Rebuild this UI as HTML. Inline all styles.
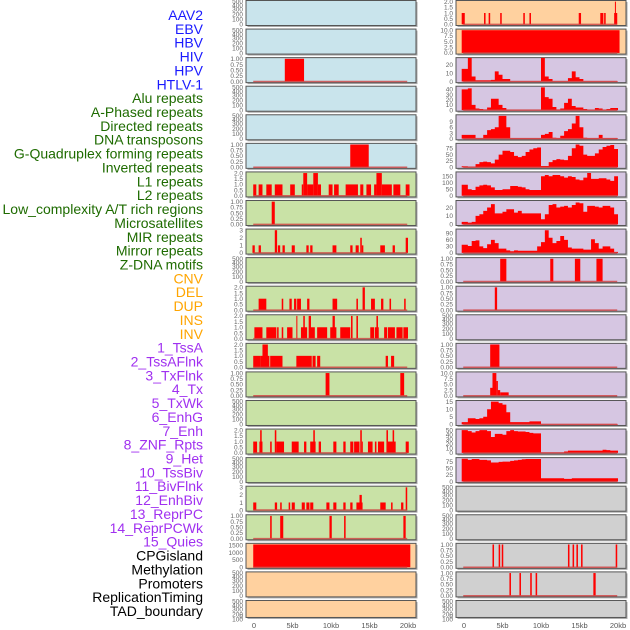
<!DOCTYPE html>
<html><head><meta charset="utf-8">
<style>
html,body{margin:0;padding:0;background:#fff;}
svg{display:block;font-family:"Liberation Sans",sans-serif;}
</style></head>
<body>
<svg id="chart" width="630" height="630" viewBox="0 0 630 630" xmlns="http://www.w3.org/2000/svg"></svg>
<script>
// ---------- data ----------
const labels = ["AAV2","EBV","HBV","HIV","HPV","HTLV-1","Alu repeats","A-Phased repeats","Directed repeats","DNA transposons","G-Quadruplex forming repeats","Inverted repeats","L1 repeats","L2 repeats","Low_complexity A/T rich regions","Microsatellites","MIR repeats","Mirror repeats","Z-DNA motifs","CNV","DEL","DUP","INS","INV","1_TssA","2_TssAFlnk","3_TxFlnk","4_Tx","5_TxWk","6_EnhG","7_Enh","8_ZNF_Rpts","9_Het","10_TssBiv","11_BivFlnk","12_EnhBiv","13_ReprPC","14_ReprPCWk","15_Quies","CPGisland","Methylation","Promoters","ReplicationTiming","TAD_boundary"];
const labelColors = ["#1a1aff","#1a1aff","#1a1aff","#1a1aff","#1a1aff","#1a1aff","#1e6b00","#1e6b00","#1e6b00","#1e6b00","#1e6b00","#1e6b00","#1e6b00","#1e6b00","#1e6b00","#1e6b00","#1e6b00","#1e6b00","#1e6b00","#ffa500","#ffa500","#ffa500","#ffa500","#ffa500","#a030f0","#a030f0","#a030f0","#a030f0","#a030f0","#a030f0","#a030f0","#a030f0","#a030f0","#a030f0","#a030f0","#a030f0","#a030f0","#a030f0","#a030f0","#000","#000","#000","#000","#000"];
const xTickLabels = ["0","5kb","10kb","15kb","20kb"];
const xTickValues = [0,5,10,15,20];

// left column segment data [startKb, endKb, value]
const L2 = [[4.0,6.5,1]];
const L5 = [[12.5,14.9,1]];
const L6 = [[-0.1,0.3,1],[0.6,1.1,1],[1.6,2.3,1],[2.7,3.7,1],[4.7,5.3,1],[6.2,6.4,1],[6.4,6.9,2],[6.9,7.7,1],[7.7,8.3,2],[8.3,8.7,1],[9.7,10.2,1],[10.4,11.0,1],[11.9,13.5,1],[13.8,14.2,1],[14.6,15.2,1],[15.6,15.9,1],[15.9,16.6,2],[16.6,17.9,1],[18.1,19.0,1],[19.7,20.2,1]];
const L7 = [[2.3,2.7,1]];
const L8 = [[-0.2,0.1,1],[0.6,0.9,1],[2.7,3.0,3],[3.1,3.4,1],[3.7,4.0,1],[4.9,5.3,1],[6.8,7.1,1],[7.3,7.6,1],[10.2,10.7,1],[12.5,12.8,1],[13.2,13.6,1],[13.8,14.0,2],[14.0,14.2,1],[16.4,17.0,1],[18.0,18.3,1],[19.7,20.0,2]];
const L10 = [[0.6,1.6,1],[3.6,3.8,1],[4.6,4.9,1],[5.2,5.5,1],[5.6,6.1,1],[6.9,7.2,1],[10.2,10.8,1],[13.3,13.5,1],[14.1,14.4,2],[15.2,15.7,1],[16.5,16.8,1],[17.6,17.8,1],[19.5,19.7,1]];
const L11 = [[0.05,1.1,1],[1.6,2.9,1],[3.0,3.2,1],[3.6,3.8,1],[4.3,5.0,1],[5.5,5.6,2],[6.1,6.9,1],[6.4,6.6,2],[7.1,7.4,2],[7.3,7.9,1],[8.2,9.5,1],[9.9,10.7,1],[10.2,10.5,2],[11.2,12.5,1],[12.6,12.8,2],[13.3,13.5,2],[15.1,15.6,1],[15.7,16.2,1],[15.9,16.1,2],[16.9,17.3,1],[17.4,18.3,1],[18.5,19.3,1],[19.4,20.0,1]];
const L12 = [[-0.1,0.8,1],[0.8,2.0,1],[1.1,1.8,2],[2.1,3.7,1],[5.5,7.5,1],[7.6,8.0,1],[8.2,8.6,1],[17.1,17.4,1],[17.8,18.2,1]];
const L13 = [[9.3,9.8,1],[19.0,19.5,1]];
const L15 = [[-0.1,0.4,1],[0.7,1.1,1],[0.8,1.0,2],[2.1,2.3,1],[2.7,2.9,2],[2.9,3.9,1],[4.9,5.8,1],[6.5,6.8,1],[7.3,8.0,1],[7.7,7.9,2],[8.4,8.7,1],[10.3,10.7,1],[11.6,11.9,1],[12.5,12.9,1],[13.0,13.7,1],[13.8,14.0,2],[14.0,14.1,1],[14.8,15.4,1],[15.7,15.9,1],[16.1,16.9,1],[17.2,17.4,2],[17.4,18.1,1],[18.0,18.2,2],[18.1,18.4,1],[19.7,20.1,1]];
const L17 = [[-0.1,0.3,1],[2.7,3.0,1],[3.4,3.6,1],[4.5,4.7,1],[4.9,5.3,1],[6.2,6.6,1],[6.8,7.2,1],[7.3,7.7,1],[9.4,9.8,1],[10.3,10.7,1],[11.6,11.9,1],[12.5,12.8,1],[13.3,14.1,1],[13.7,14.0,2],[16.4,17.1,1],[17.8,18.0,1],[19.1,19.4,1],[19.7,19.9,3]];
const L18 = [[2.1,2.3,1],[3.4,3.8,1],[9.8,10.1,1],[11.7,11.9,1],[19.4,19.7,1]];
const L19 = [[-0.1,20.3,1550]];

// right column
const R0 = [[-0.3,0.1,1],[2.6,2.8,1],[3.2,3.4,1],[4.7,4.9,1],[7.7,7.9,1],[8.5,8.7,1],[14.9,15.2,1],[17.7,18.1,1],[18.2,18.4,1],[19.5,19.9,1],[19.6,19.7,2]];
const R1 = [[-0.3,20.2,10]];
// binned values, 0.5kb bins from 0 to 20kb
const R2 = [15,28,6,1.5,1.5,1.5,1.5,2,12,8,3,3,0.5,0.5,0.5,0.5,0.5,0.5,0.5,0.5,28,6,3,0.5,0.5,0.5,0.5,4,12,5,3,0.5,0.5,0.5,0.5,0.5,0.5,0.5,0.5,0.5];
const R3 = [40,42,10,3,2,1,5,22,22,10,4,0.5,0.5,0.5,0.5,0.5,0.5,0.5,0.5,0.5,44,25,22,6,1,3,14,22,8,5,5,2,0.5,0.5,4,3,0.5,2,4,4];
const R4 = [2,2,2,0.3,0.3,2,4.5,5,6,12,12,6,0.3,0.3,0.3,0.3,0.3,0.3,0.3,0.3,2,2.5,3.5,0.5,0.3,1.5,4,5,8,12,6,0.5,0.3,0.3,0.3,2,0.3,0.3,0.3,0.3];
const R5 = [4,3,3,12,20,22,20,15,30,50,65,65,60,45,40,45,60,70,75,78,5,5,20,28,32,30,28,45,75,90,85,50,45,45,55,70,80,85,88,72];
const R6 = [85,50,45,70,80,85,80,65,45,45,50,50,75,75,70,65,50,45,45,45,150,160,150,160,160,150,140,150,145,125,120,140,175,130,130,135,135,125,115,150];
const R7 = [3,2,3,10,12,16,20,24,13,13,15,18,18,14,16,13,13,13,13,13,6,12,23,24,20,21,22,20,23,26,25,15,22,22,21,20,22,22,20,12];
const R8 = [38,32,55,58,30,22,40,60,45,20,20,12,8,12,10,10,10,10,10,30,50,105,70,45,55,78,60,25,20,20,20,15,15,63,45,20,30,30,20,5];
const R9 = [[4.7,5.5,1],[11.2,11.6,1],[14.4,15.1,1],[17.2,18.0,1]];
const R10 = [[4.0,4.3,1]];
const R12 = [[3.4,4.6,1]];
const R13 = [[3.4,3.7,3.5],[3.7,4.2,10],[4.2,4.4,6.5],[4.4,4.7,2.5],[4.7,5.8,1.5]];
const R14 = [1.5,4,4,3.5,4,5,10,15,15,14,13,8,1.5,1.5,1.5,1.5,1.5,2,2,2,0.2,0.2,0.2,0.2,0.2,0.2,0.2,0.2,0.2,0.2,0.2,0.2,0.2,0.2,0.2,0.2,0.2,0.2,0.2,0.2];
const R15 = [50,48,45,48,50,50,48,35,42,42,40,48,50,48,47,47,46,44,43,43,1,1,1,1,1,1,3,5,5,5,5,5,5,5,5,5,7,6,5,5];
const R16 = [86,82,85,85,82,82,80,72,72,74,75,75,78,80,82,84,85,85,85,85,12,12,12,12,12,12,10,10,12,12,12,12,12,12,12,12,12,12,12,12];
const R19 = [[3.7,3.9,1],[4.5,4.7,1],[4.9,5.1,1],[13.5,13.7,1],[14.1,14.3,1],[14.6,14.8,1],[15.2,15.4,1],[19.7,19.9,1]];
const R20 = [[5.9,6.1,1],[7.2,7.4,1],[8.6,8.8,1],[9.3,9.5,1],[16.8,17.1,1]];

const BLUE="#c9e4ec", GREEN="#c9e2a6", ORANGE="#ffd19f", PURPLE="#d6c6e2", GREY="#d0d0d0";
const T2=[0,0.5,1,1.5,2], T1=[0,0.25,0.5,0.75,1], T3=[0,1,2,3];
const leftPanels = [
 {bg:BLUE},{bg:BLUE},{bg:BLUE,seg:L2,max:1,ticks:T1,fmt:2},{bg:BLUE},{bg:BLUE},{bg:BLUE,seg:L5,max:1,ticks:T1,fmt:2},
 {bg:GREEN,seg:L6,max:2,ticks:T2,fmt:1},{bg:GREEN,seg:L7,max:1,ticks:T1,fmt:2},{bg:GREEN,seg:L8,max:3,ticks:T3,fmt:0},{bg:GREEN},
 {bg:GREEN,seg:L10,max:2,ticks:T2,fmt:1},{bg:GREEN,seg:L11,max:2,ticks:T2,fmt:1},{bg:GREEN,seg:L12,max:2,ticks:T2,fmt:1},{bg:GREEN,seg:L13,max:1,ticks:T1,fmt:2},
 {bg:GREEN},{bg:GREEN,seg:L15,max:2,ticks:T2,fmt:1},{bg:GREEN},{bg:GREEN,seg:L17,max:3,ticks:T3,fmt:0},{bg:GREEN,seg:L18,max:1,ticks:T1,fmt:2},
 {bg:ORANGE,seg:L19,max:1550,ticks:[0,500,1000,1500],fmt:0},{bg:ORANGE},{bg:ORANGE,last:false}
];
const rightPanels = [
 {bg:ORANGE,seg:R0,max:2,ticks:T2,fmt:1},{bg:ORANGE,seg:R1,max:10,ticks:[0,2.5,5,7.5,10],fmt:1},
 {bg:PURPLE,bins:R2,max:27,ticks:[0,10,20],fmt:0},{bg:PURPLE,bins:R3,max:44,ticks:[0,10,20,30,40],fmt:0},
 {bg:PURPLE,bins:R4,max:12,ticks:[0,3,6,9],fmt:0},{bg:PURPLE,bins:R5,max:90,ticks:[0,25,50,75],fmt:0},
 {bg:PURPLE,bins:R6,max:175,ticks:[0,50,100,150],fmt:0},{bg:PURPLE,bins:R7,max:27,ticks:[0,10,20],fmt:0},
 {bg:PURPLE,bins:R8,max:105,ticks:[0,30,60,90],fmt:0},{bg:PURPLE,seg:R9,max:1,ticks:T1,fmt:2},
 {bg:PURPLE,seg:R10,max:1,ticks:T1,fmt:2},{bg:PURPLE},{bg:PURPLE,seg:R12,max:1,ticks:T1,fmt:2},
 {bg:PURPLE,seg:R13,max:10,ticks:[0,2.5,5,7.5,10],fmt:1},{bg:PURPLE,bins:R14,max:15,ticks:[0,5,10,15],fmt:0},
 {bg:PURPLE,bins:R15,max:50,ticks:[0,10,20,30,40,50],fmt:0},{bg:PURPLE,bins:R16,max:86,ticks:[0,25,50,75],fmt:0},
 {bg:GREY},{bg:GREY},{bg:GREY,seg:R19,max:1,ticks:T1,fmt:2},{bg:GREY,seg:R20,max:1,ticks:T1,fmt:2},{bg:GREY}
];

// ---------- drawing ----------
const svg = document.getElementById('chart');
const NS = "http://www.w3.org/2000/svg";
function mk(tag, attrs, parent){ const e=document.createElementNS(NS,tag); for(const k in attrs) e.setAttribute(k,attrs[k]); (parent||svg).appendChild(e); return e; }

// labels
labels.forEach((t,i)=>{
  const e = mk('text',{x:203,y:15+i*13.86+5,'text-anchor':'end','font-size':'14',fill:labelColors[i]});
  
  
  e.textContent=t;
});

const ROW=28.57;
function drawPanel(p, col, row){
  const x0 = col===0?246:456, w=170, zeroX = col===0?254:464, kbPx=7.7;
  const top = row*ROW+0.5, H = row===21?17:25;
  const xs = kb=>zeroX+kb*kbPx;
  const g = mk('g',{});
  
  
  mk('rect',{x:x0+1.5,y:top+1.5,width:w,height:H,fill:'#aaa'},g);
  const bg = mk('rect',{x:x0,y:top,width:w,height:H,fill:p.bg,stroke:'#555','stroke-width':1},g);
  
  
  const tx = x0-3;
  if(p.max===undefined){
    const offs=[1,5,9,14,19,H-1], vals=["500","400","300","200","100","0"];
    vals.forEach((v,i)=>{ const t=mk('text',{x:tx,y:top+offs[i]+2.2,'text-anchor':'end','font-size':'6.5',fill:'#666'},g); t.textContent=v;
        });
    return;
  }
  const ymin=-0.05*p.max, ymax=1.05*p.max;
  const ys = v=>top+H*(1-(Math.min(v,ymax)-ymin)/(ymax-ymin));
  p.ticks.forEach(v=>{ const t=mk('text',{x:tx,y:ys(v)+2.3,'text-anchor':'end','font-size':'6.5',fill:'#666'},g);
    t.textContent = v.toFixed(p.fmt);   });
  if(p.seg){
    p.seg.forEach(s=>{ const r=mk('rect',{x:xs(s[0]),y:ys(s[2]),width:Math.max(1,xs(s[1])-xs(s[0])),height:ys(0)-ys(s[2]),fill:'#ff0000'},g);
        });
  }
  if(p.bins){
    let d='M'+xs(-0.3)+','+ys(0);
    p.bins.forEach((v,i)=>{ const a=i===0?-0.3:i*0.5, b=(i+1)*0.5; d+=' L'+xs(a)+','+ys(v)+' L'+xs(b)+','+ys(v); });
    d+=' L'+xs(p.bins.length*0.5)+','+ys(0)+' Z';
    const a=mk('path',{d:d,fill:'#ff0000'},g);
     
  }
  mk('line',{x1:xs(-0.1),x2:xs(19.9),y1:ys(0),y2:ys(0),stroke:'#d04040','stroke-opacity':0.8,'stroke-width':1.5},g);
}
leftPanels.forEach((p,i)=>drawPanel(p,0,i));
rightPanels.forEach((p,i)=>drawPanel(p,1,i));

// x-axis ticks
[254,464].forEach(z=>{
  xTickValues.forEach((v,i)=>{
    const t=mk('text',{x:z+v*7.7,y:628,'text-anchor':'middle','font-size':'7.5',fill:'#555'});
    
    
    t.textContent=xTickLabels[i];
  });
});
</script>
</body></html>
